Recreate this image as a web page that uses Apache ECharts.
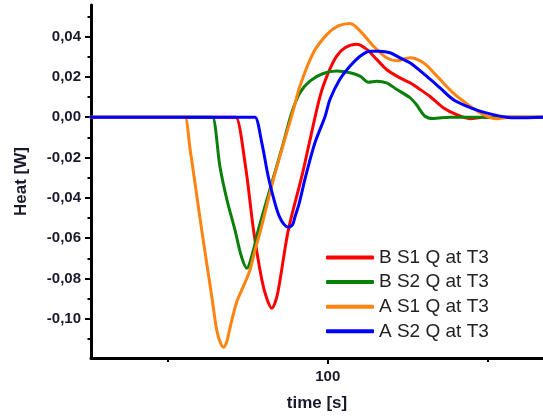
<!DOCTYPE html>
<html>
<head>
<meta charset="utf-8">
<script src="https://cdn.jsdelivr.net/npm/echarts@6/dist/echarts.min.js"></script>
<style>
html,body{margin:0;padding:0;background:#fff;}
#chart{width:543px;height:417px;}
</style>
</head>
<body>
<div id="chart"></div>
<script>
const seriesNames = ['B S1 Q at T3', 'B S2 Q at T3', 'A S1 Q at T3', 'A S2 Q at T3'];
const seriesColors = ['#ff0000', '#0a800a', '#ff8310', '#0000ff'];

const bS1Time = [26, 70.3, 71.3, 74.3, 76.8, 79.4, 80.9, 82.5, 84.0, 85.1, 87.7, 91.9, 94.5, 97.6, 100.2, 102.8, 105.4, 109.1, 112.2, 115.3, 118.4, 121.6, 125.7, 128.1, 131.9, 136.1, 140.3, 144.5, 148.6, 167.3];
const bS1Heat = [0, 0, 0, -0.0244, -0.0559, -0.0807, -0.0897, -0.0948, -0.0897, -0.0807, -0.0559, -0.0294, -0.011, 0.0104, 0.0221, 0.0303, 0.0345, 0.0362, 0.0337, 0.0287, 0.0237, 0.0204, 0.0171, 0.0146, 0.0104, 0.0047, 0.0013, -0.0007, 0, 0];

const bS2Time = [26, 63.0, 64.0, 66.3, 68.5, 71.0, 73.0, 74.7, 76.8, 78.3, 83.0, 86.1, 88.75, 91.3, 94.5, 98.6, 102.8, 107.0, 110.1, 112.7, 115.3, 118.4, 121.6, 125.7, 127.7, 130.4, 133.0, 138.2, 167.3];
const bS2Heat = [0, 0, 0, -0.0244, -0.041, -0.0559, -0.0690, -0.0749, -0.0658, -0.0559, -0.0300, -0.0130, 0.0022, 0.0121, 0.018, 0.0217, 0.0229, 0.0221, 0.0204, 0.0174, 0.0179, 0.0171, 0.0138, 0.0097, 0.0063, 0.0005, -0.0006, 0, 0];

const aS1Time = [26, 54.4, 55.4, 57.0, 58.5, 60.6, 63.75, 65.3, 66.4, 67.4, 68.4, 69.3, 70.3, 71.6, 73.6, 75.7, 77.3, 78.8, 83.0, 86.1, 89.3, 91.3, 95.5, 99.7, 103.3, 107.0, 110.6, 114.3, 118.4, 121.6, 125.7, 129.9, 134.1, 139.2, 144.5, 148.6, 152.8, 157.0, 167.3];
const aS1Heat = [0, 0, 0, -0.0161, -0.0326, -0.0559, -0.089, -0.1056, -0.1117, -0.1142, -0.1117, -0.1056, -0.099, -0.0915, -0.0841, -0.0758, -0.0658, -0.0574, -0.031, -0.0136, 0.0038, 0.0154, 0.032, 0.041, 0.0453, 0.0465, 0.042, 0.0353, 0.0295, 0.028, 0.0295, 0.027, 0.0205, 0.0121, 0.0055, 0.0013, -0.0007, 0, 0];

const aS2Time = [26, 76.3, 77.3, 79.4, 81.4, 83.5, 84.9, 86.4, 87.7, 89.0, 89.8, 91.1, 93.1, 96.0, 99.2, 100.7, 103.8, 107.0, 110.1, 113.2, 116.3, 119.5, 122.6, 125.7, 130.9, 135.1, 139.2, 143.4, 147.6, 151.8, 155.9, 159.1, 167.3];
const aS2Heat = [0, 0, 0, -0.0127, -0.0294, -0.0426, -0.0493, -0.0533, -0.0545, -0.0533, -0.0493, -0.0426, -0.0294, -0.0127, 0.0005, 0.0088, 0.0188, 0.0254, 0.0303, 0.0328, 0.0328, 0.032, 0.0295, 0.027, 0.0204, 0.0146, 0.0088, 0.0055, 0.003, 0.0013, 0, -0.0003, 0];

const xMajorTicks = [100];
const xMinorTicks = [50, 150];
const yMajorTicks = [-0.10, -0.08, -0.06, -0.04, -0.02, 0, 0.02, 0.04];
const yMinorTicks = [-0.11, -0.09, -0.07, -0.05, -0.03, -0.01, 0.01, 0.03, 0.05];

const X_MIN = 26, X_MAX = 167.3, Y_MIN = -0.1195, Y_MAX = 0.0557;

const times = [bS1Time, bS2Time, aS1Time, aS2Time];
const heats = [bS1Heat, bS2Heat, aS1Heat, aS2Heat];

const labelColor = '#1a1a2e';
const fontFamily = '"Liberation Sans", Arial, sans-serif';

const chart = echarts.init(document.getElementById('chart'), null, {renderer: 'canvas'});
chart.setOption({
  animation: false,
  backgroundColor: '#fff',
  grid: {left: 91, right: 0, top: 5, bottom: 59, containLabel: false, outerBoundsMode: 'none'},
  legend: {
    orient: 'vertical',
    left: 321,
    top: 242.5,
    itemWidth: 48,
    itemHeight: 4,
    itemGap: 4.6,
    icon: 'roundRect',
    textStyle: {fontSize: 19, color: '#222', fontFamily: fontFamily, lineHeight: 20},
    data: seriesNames
  },
  xAxis: [{
    type: 'value', min: X_MIN, max: X_MAX, position: 'bottom',
    name: 'time [s]', nameLocation: 'middle', nameGap: 37,
    nameTextStyle: {fontSize: 17, fontWeight: 'bold', color: labelColor, fontFamily: fontFamily},
    axisLine: {show: true, onZero: false, lineStyle: {color: '#000', width: 3}},
    axisTick: {show: true, inside: false, length: 6, customValues: xMajorTicks, lineStyle: {color: '#000', width: 2}},
    axisLabel: {show: true, customValues: xMajorTicks, margin: 11, fontSize: 15, fontWeight: 'bold', color: labelColor, fontFamily: fontFamily},
    splitLine: {show: false}
  }, {
    type: 'value', min: X_MIN, max: X_MAX, position: 'bottom',
    axisLine: {show: false, onZero: false},
    axisTick: {show: true, inside: false, length: 4, customValues: xMinorTicks, lineStyle: {color: '#000', width: 2}},
    axisLabel: {show: false, customValues: xMinorTicks},
    splitLine: {show: false}
  }],
  yAxis: [{
    type: 'value', min: Y_MIN, max: Y_MAX, position: 'left',
    name: 'Heat [W]', nameLocation: 'middle', nameGap: 61,
    nameTextStyle: {fontSize: 17, fontWeight: 'bold', color: labelColor, fontFamily: fontFamily},
    axisLine: {show: true, onZero: false, lineStyle: {color: '#000', width: 3}},
    axisTick: {show: true, inside: false, length: 6, customValues: yMajorTicks, lineStyle: {color: '#000', width: 2}},
    axisLabel: {show: true, customValues: yMajorTicks, margin: 10, fontSize: 15, fontWeight: 'bold', color: labelColor, fontFamily: fontFamily,
      formatter: v => v.toFixed(2).replace('.', ',')},
    splitLine: {show: false}
  }, {
    type: 'value', min: Y_MIN, max: Y_MAX, position: 'left',
    axisLine: {show: false, onZero: false},
    axisTick: {show: true, inside: false, length: 3.5, customValues: yMinorTicks, lineStyle: {color: '#000', width: 2}},
    axisLabel: {show: false, customValues: yMinorTicks},
    splitLine: {show: false}
  }],
  series: seriesNames.map((name, i) => ({
    name: name,
    type: 'line',
    xAxisIndex: 0,
    yAxisIndex: 0,
    data: times[i].map((t, k) => [t, heats[i][k]]),
    showSymbol: false,
    symbol: 'none',
    smooth: 0.3,
    clip: true,
    lineStyle: {width: 3, color: seriesColors[i], cap: 'round', join: 'round'},
    itemStyle: {color: seriesColors[i]},
    z: 2 + i
  }))
});
</script>
</body>
</html>
